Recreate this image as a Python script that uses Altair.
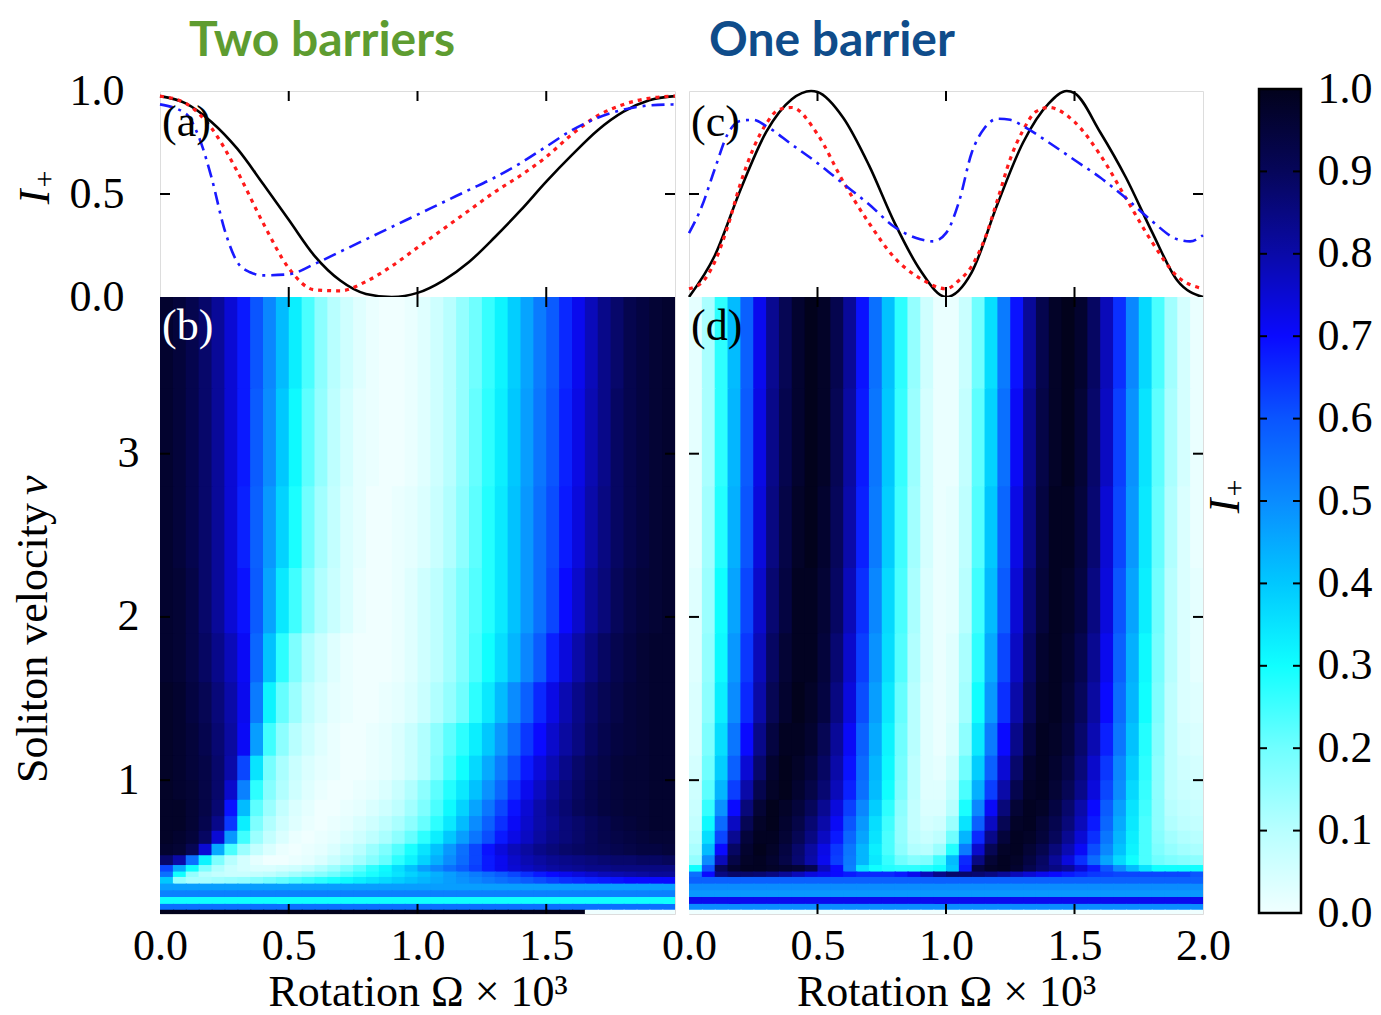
import altair as alt
import pandas as pd

SERIF = "Liberation Serif"

# ---------------- top panels: I+ versus rotation (three velocities) ----------------
A_BLACK_OMEGA = [0.0, 0.1, 0.2, 0.3, 0.4, 0.5, 0.6, 0.7, 0.8, 0.9, 1.0, 1.1, 1.2, 1.3, 1.4, 1.5, 1.6, 1.7, 1.8, 1.9, 2.0]
A_BLACK = [0.975, 0.94, 0.85, 0.72, 0.55, 0.375, 0.2, 0.08, 0.015, 0.0, 0.02, 0.08, 0.17, 0.29, 0.42, 0.56, 0.69, 0.81, 0.90, 0.955, 0.975]
A_RED_OMEGA = [0.0, 0.1, 0.2, 0.3, 0.4, 0.5, 0.6, 0.7, 0.8, 0.9, 1.0, 1.1, 1.2, 1.3, 1.4, 1.5, 1.6, 1.7, 1.8, 1.9, 2.0]
A_RED = [0.975, 0.94, 0.82, 0.61, 0.36, 0.14, 0.035, 0.03, 0.075, 0.15, 0.24, 0.33, 0.42, 0.51, 0.59, 0.68, 0.79, 0.88, 0.935, 0.965, 0.975]
A_BLUE_OMEGA = [0.0, 0.1, 0.15, 0.2, 0.25, 0.3, 0.35, 0.4, 0.5, 0.6, 0.7, 0.8, 0.9, 1.0, 1.1, 1.2, 1.3, 1.4, 1.5, 1.6, 1.7, 1.8, 1.9, 2.0]
A_BLUE = [0.935, 0.89, 0.78, 0.58, 0.33, 0.17, 0.12, 0.105, 0.11, 0.16, 0.22, 0.28, 0.34, 0.40, 0.46, 0.52, 0.58, 0.65, 0.73, 0.81, 0.87, 0.91, 0.93, 0.935]

C_BLACK_OMEGA = [0.0, 0.1, 0.2, 0.3, 0.4, 0.475, 0.5, 0.6, 0.7, 0.8, 0.9, 1.0, 1.1, 1.2, 1.3, 1.4, 1.47, 1.5, 1.6, 1.7, 1.8, 1.9, 2.0]
C_BLACK = [0.0, 0.2, 0.52, 0.80, 0.96, 1.0, 0.995, 0.87, 0.64, 0.36, 0.13, 0.0, 0.12, 0.45, 0.75, 0.94, 1.0, 0.99, 0.80, 0.58, 0.32, 0.08, 0.0]
C_RED_OMEGA = [0.0, 0.05, 0.1, 0.15, 0.2, 0.25, 0.3, 0.35, 0.4, 0.5, 0.6, 0.7, 0.8, 0.9, 1.0, 1.05, 1.1, 1.15, 1.2, 1.25, 1.3, 1.35, 1.4, 1.5, 1.6, 1.7, 1.8, 1.9, 2.0]
C_RED = [0.04, 0.07, 0.17, 0.34, 0.55, 0.72, 0.84, 0.91, 0.92, 0.79, 0.56, 0.36, 0.19, 0.09, 0.04, 0.08, 0.15, 0.28, 0.47, 0.67, 0.81, 0.90, 0.92, 0.85, 0.69, 0.48, 0.27, 0.10, 0.04]
C_BLUE_OMEGA = [0.0, 0.05, 0.1, 0.15, 0.2, 0.25, 0.3, 0.4, 0.5, 0.6, 0.7, 0.8, 0.9, 0.95, 1.0, 1.05, 1.1, 1.15, 1.2, 1.25, 1.3, 1.4, 1.5, 1.6, 1.7, 1.8, 1.9, 1.95, 2.0]
C_BLUE = [0.31, 0.44, 0.62, 0.79, 0.855, 0.86, 0.83, 0.74, 0.65, 0.55, 0.45, 0.34, 0.28, 0.27, 0.31, 0.46, 0.70, 0.82, 0.865, 0.86, 0.83, 0.75, 0.665, 0.58, 0.48, 0.37, 0.28, 0.27, 0.30]

# ---------------- heat maps: I+ (percent) over rotation x soliton velocity ----------------
OMEGA_EDGES = [0.0, 0.05, 0.1, 0.15, 0.2, 0.25, 0.3, 0.35, 0.4, 0.45, 0.5, 0.55, 0.6, 0.65, 0.7, 0.75,
               0.8, 0.85, 0.9, 0.95, 1.0, 1.05, 1.1, 1.15, 1.2, 1.25, 1.3, 1.35, 1.4, 1.45, 1.5, 1.55,
               1.6, 1.65, 1.7, 1.75, 1.8, 1.85, 1.9, 1.95, 2.0]
V_EDGES = [3.96, 3.4, 2.8, 2.3, 1.9, 1.6, 1.35, 1.15, 1.0, 0.88, 0.78, 0.69, 0.61, 0.54, 0.48,
           0.44, 0.407, 0.366, 0.325, 0.284, 0.242, 0.206, 0.18]

B_ROWS = [
    "97 95 92 88 82 75 68 60 51 42 33 24 16 10 6 3 1 0 0 1 3 6 10 15 20 26 32 39 46 53 59 66 72 78 84 88 92 94 96 97",
    "97 95 92 88 82 75 68 59 50 40 31 22 15 9 5 2 1 0 0 1 3 6 10 15 21 27 33 40 47 54 60 67 73 79 84 89 92 94 96 97",
    "97 95 92 88 82 75 67 58 48 38 29 20 13 8 4 2 0 0 1 2 4 7 11 16 22 28 34 41 48 55 61 68 74 80 85 89 92 94 96 97",
    "97 96 93 88 82 75 69 59 46 34 25 17 11 7 4 1 0 0 1 3 6 9 13 18 23 28 34 41 48 55 62 70 76 82 86 90 93 95 96 97",
    "97 96 93 89 84 78 71 57 41 27 18 11 7 3 1 0 0 0 1 3 6 9 13 18 24 30 36 43 51 59 67 74 80 85 89 92 94 96 97 97",
    "98 97 94 91 86 80 72 53 32 21 14 8 5 2 1 0 0 1 2 4 7 11 15 20 27 34 42 50 58 66 73 79 84 88 91 93 95 96 97 97",
    "98 97 95 92 87 81 71 47 25 16 10 6 3 1 0 0 1 2 4 7 11 16 22 27 33 40 48 56 64 70 76 81 85 89 92 94 95 96 97 97",
    "98 97 95 93 88 80 62 35 19 12 7 4 2 1 0 0 1 2 4 7 11 17 24 30 37 45 53 61 68 74 79 84 88 91 93 95 96 96 97 97",
    "98 97 96 93 88 76 52 27 17 11 6 3 1 0 0 1 2 4 7 11 16 22 28 34 41 49 57 65 72 77 82 86 89 92 94 95 96 96 97 97",
    "98 98 96 93 87 69 42 22 14 8 4 2 0 0 1 2 4 6 9 13 18 24 31 38 46 54 62 69 75 80 84 87 90 92 94 95 96 96 97 97",
    "98 98 96 92 84 64 33 18 11 6 3 1 0 1 2 4 6 9 12 16 21 27 34 42 50 58 65 71 76 80 83 86 88 90 92 94 95 96 97 97",
    "98 97 95 89 75 48 25 14 8 4 1 0 1 2 4 6 9 12 16 21 27 33 40 47 54 61 68 73 77 81 84 86 88 90 92 93 94 95 96 96",
    "97 96 91 75 45 24 14 8 4 1 0 1 2 4 7 10 14 18 23 29 35 41 48 55 62 69 74 78 81 84 86 88 89 90 91 92 93 94 94 95",
    "88 80 55 32 18 10 5 2 0 0 1 2 4 7 10 13 17 21 27 32 38 44 50 56 62 68 72 76 79 81 83 84 85 86 87 88 88 89 89 90",
    "62 45 30 18 11 7 5 4 4 5 6 8 11 14 18 22 27 31 36 41 47 51 55 59 63 68 72 75 77 79 81 82 83 84 84 85 85 85 85 85",
    "55 30 15 10 8 7 7 8 9 11 13 15 17 20 23 26 29 32 35 38 41 44 47 50 53 56 59 62 65 68 70 72 74 76 78 79 80 81 82 82",
    "40 15 12 12 13 14 15 17 19 21 23 25 27 29 31 33 35 37 39 41 43 45 47 49 51 53 55 57 59 61 63 65 66 67 68 69 70 70 70 70",
    "47*40",
    "52*40",
    "30*40",
    "55*40",
    "100*33 0*7",
]

D_ROWS = [
    "2 12 27 42 58 72 83 91 97 100 98 92 82 69 55 41 27 15 6 1 1 7 20 36 53 69 82 92 98 100 97 89 78 65 51 37 24 13 5 1",
    "2 12 27 43 59 73 84 92 97 100 98 91 81 68 54 40 26 14 5 1 1 8 22 38 55 71 84 93 98 100 96 88 77 63 49 35 22 12 5 1",
    "2 13 28 44 60 74 85 93 98 100 97 90 80 67 53 39 25 13 5 1 2 9 23 40 57 73 85 94 99 99 95 87 75 62 48 34 21 11 4 1",
    "3 14 30 46 62 76 87 94 99 99 96 89 78 65 51 37 24 12 4 1 2 10 25 42 59 75 87 95 99 98 94 85 74 60 46 33 20 10 4 2",
    "3 15 31 48 64 78 89 96 99 99 95 87 76 63 49 36 23 11 4 1 3 12 27 45 62 77 89 97 99 97 92 83 72 58 44 31 19 10 4 2",
    "4 16 33 50 66 80 91 97 100 98 94 85 74 61 47 34 21 10 3 1 3 13 30 48 65 80 91 98 99 96 90 81 70 56 43 30 18 9 4 3",
    "4 18 36 54 70 84 94 99 99 97 91 82 71 58 45 32 20 10 3 1 4 16 34 53 70 84 94 99 98 95 88 79 67 54 41 28 17 9 5 4",
    "5 20 39 58 75 88 97 100 98 95 89 80 69 56 43 31 19 9 3 2 6 20 39 58 75 88 97 99 97 93 86 76 64 51 39 27 16 9 6 5",
    "6 22 43 63 80 92 98 100 97 93 87 78 67 55 42 30 18 9 3 3 8 24 44 63 80 92 98 99 96 91 84 74 62 50 37 26 16 9 7 6",
    "7 26 49 70 86 96 100 98 95 90 83 74 63 51 39 27 16 8 4 4 10 29 51 71 86 96 99 98 94 88 80 70 59 47 35 25 16 10 8 7",
    "8 31 56 77 91 98 100 97 93 87 80 71 60 48 36 25 15 8 5 6 14 35 58 77 91 98 99 96 92 86 78 68 57 45 34 24 16 11 9 8",
    "10 36 62 83 95 99 99 96 91 85 77 68 57 46 35 24 15 9 7 9 20 43 66 84 95 99 98 95 90 83 75 65 54 43 33 24 17 13 11 10",
    "12 42 70 89 97 100 98 94 88 81 73 64 54 43 33 24 16 11 10 14 28 53 76 91 98 99 96 92 86 79 71 61 51 41 32 24 18 15 13 12",
    "15 50 78 93 98 99 97 93 87 80 72 63 53 43 34 26 20 17 18 25 42 66 85 96 99 98 94 89 82 74 65 56 46 37 30 24 20 18 17 16",
    "30 60 90 97 99 99 98 97 96 92 78 70 52 35 30 28 27 27 28 30 40 68 94 98 99 97 92 88 85 82 75 68 60 50 42 35 30 30 30 30",
    "55 70 85 88 88 87 85 82 78 74 72 70 68 66 66 66 68 72 78 84 88 88 87 85 82 78 75 72 70 68 66 64 63 62 62 62 62 62 62 60",
    "58*40",
    "50*40",
    "48*40",
    "72*40",
    "50*40",
    "0*40",
]

# colour map (value -> colour) and colour-bar labels / ticks
CMAP_STOPS = [0.0, 0.1, 0.2, 0.3, 0.4, 0.5, 0.6, 0.7, 0.8, 0.9, 1.0]
CMAP_COLORS = ["#f0ffff", "#b8ffff", "#70ffff", "#10ffff", "#00c8ff", "#0a8cff",
               "#0a55ff", "#0a0aff", "#0a0aa8", "#06065a", "#02021c"]
CBAR_VALUES = [0.0, 0.1, 0.2, 0.3, 0.4, 0.5, 0.6, 0.7, 0.8, 0.9, 1.0]
CBAR_TICKS = [0.1, 0.2, 0.3, 0.4, 0.5, 0.6, 0.7, 0.8, 0.9]

X_TICKS = [0.5, 1.0, 1.5]
Y_TICKS_TOP = [0.5]
Y_TICKS_HEAT = [1, 2, 3]
X_LABELS_LEFT = [0.0, 0.5, 1.0, 1.5]
X_LABELS_RIGHT = [0.0, 0.5, 1.0, 1.5, 2.0]
Y_LABELS_TOP = [0.0, 0.5, 1.0]
Y_LABELS_HEAT = [1, 2, 3]

PANEL_TAGS = ["(a)", "(b)", "(c)", "(d)"]
HEADINGS = ["Two barriers", "One barrier"]
HEADING_COLORS = ["#5e9c30", "#0f4c8a"]


def parse_row(s):
    out = []
    for tok in s.split():
        if "*" in tok:
            v, n = tok.split("*")
            out += [int(v)] * int(n)
        else:
            out.append(int(tok))
    assert len(out) == len(OMEGA_EDGES) - 1, (s, len(out))
    return out


OVERLAP_X = 0.005   # tiny overlap so neighbouring cells show no hairline seams
OVERLAP_V = 0.006


def heat_df(rows):
    recs = []
    for i, s in enumerate(rows):
        vals = parse_row(s)
        for k, val in enumerate(vals):
            recs.append({"x0": OMEGA_EDGES[k], "x1": OMEGA_EDGES[k + 1] + OVERLAP_X,
                         "v0": V_EDGES[i], "v1": V_EDGES[i + 1] - OVERLAP_V, "I": val / 100.0})
    return pd.DataFrame(recs)


W_L, W_R, H_T, H_B = 515, 514, 206, 617
GAP = 14
TL = 10
FS = 44
HEAD_FS, HEAD_Y = 48, -49
# colour bar geometry, relative to panel (d)
CB_LEFT, CB_W = 570, 42
CB_TOP, CB_LEN = -208, 824

XS = alt.Scale(domain=[0, 2], nice=False, zero=False)
YS_LINE = alt.Scale(domain=[0, 1], nice=False, zero=False)
YS_HEAT = alt.Scale(domain=[0.18, 3.96], nice=False, zero=False)
CSCALE = alt.Scale(domain=CMAP_STOPS, range=CMAP_COLORS, interpolate="rgb")
CBSCALE = alt.Scale(domain=[0, 1], range=[CB_TOP + CB_LEN, CB_TOP], nice=False, zero=False)


def enc_x(field, axis):
    return alt.X(field, scale=XS, axis=axis)


def ticks(W, H, xvals, yvals, yscale, xaxis, yaxis):
    rule = dict(color="black", strokeWidth=2)
    dx = pd.DataFrame({"t": xvals})
    dy = pd.DataFrame({"t": yvals})
    return [
        alt.Chart(dx).mark_rule(**rule).encode(x=enc_x("t:Q", xaxis), y=alt.value(0), y2=alt.value(TL)),
        alt.Chart(dx).mark_rule(**rule).encode(x=enc_x("t:Q", xaxis), y=alt.value(H), y2=alt.value(H - TL)),
        alt.Chart(dy).mark_rule(**rule).encode(y=alt.Y("t:Q", scale=yscale, axis=yaxis), x=alt.value(0), x2=alt.value(TL)),
        alt.Chart(dy).mark_rule(**rule).encode(y=alt.Y("t:Q", scale=yscale, axis=yaxis), x=alt.value(W), x2=alt.value(W - TL)),
    ]


def text(txt, x, y, size, color="black", font=SERIF, weight="normal", style="normal", align="left", angle=0):
    kw = dict(align=align, baseline="middle", fontSize=size, font=font, fontWeight=weight,
              fontStyle=style, color=color)
    if angle:
        kw["angle"] = angle
    return alt.Chart(pd.DataFrame({"t": [txt]})).mark_text(**kw).encode(
        x=alt.value(x), y=alt.value(y), text="t:N")


def i_plus(x, y):
    """Italic I with a subscript plus, rotated like a y-axis title (centre at x, y)."""
    return [
        text("I", x, y + 6, FS, style="italic", align="center", angle=270),
        text("+", x + 9, y - 12, 30, align="center", angle=270),
    ]


def line(xs, ys, color, width, yaxis, dash=None):
    kw = dict(color=color, strokeWidth=width, interpolate="monotone")
    if dash:
        kw["strokeDash"] = dash
    return alt.Chart(pd.DataFrame({"omega": xs, "I": ys})).mark_line(**kw).encode(
        x=enc_x("omega:Q", None), y=alt.Y("I:Q", scale=YS_LINE, axis=yaxis))


def x_axis(values):
    return alt.Axis(values=values, format=".1f", title="Rotation Ω × 10³", ticks=False, domain=False,
                    grid=False, labelPadding=10, titlePadding=2, labelFont=SERIF, titleFont=SERIF,
                    labelFontSize=FS, titleFontSize=FS, titleFontWeight="normal", labelColor="black",
                    titleColor="black", labelFlush=False, labelOverlap=False)


Y_AXIS_TOP = alt.Axis(values=Y_LABELS_TOP, format=".1f", title=None, ticks=False, domain=False, grid=False,
                      labelPadding=36, labelFont=SERIF, labelFontSize=FS, labelColor="black",
                      labelFlush=False, labelOverlap=False)
Y_AXIS_HEAT = alt.Axis(values=Y_LABELS_HEAT, format="d", title=None, ticks=False, domain=False, grid=False,
                       labelPadding=21, labelFont=SERIF, labelFontSize=FS, labelColor="black",
                       labelFlush=False, labelOverlap=False)
X_AXIS_B = x_axis(X_LABELS_LEFT)
X_AXIS_D = x_axis(X_LABELS_RIGHT)
CB_AXIS = alt.Axis(orient="right", values=CBAR_VALUES, format=".1f", title=None, ticks=False, domain=False,
                   grid=False, labelPadding=16, offset=CB_LEFT + CB_W - W_R, labelFont=SERIF,
                   labelFontSize=FS, labelColor="black", labelFlush=False, labelOverlap=False)

# panel (a)
a = alt.layer(
    line(A_BLACK_OMEGA, A_BLACK, "black", 2.6, Y_AXIS_TOP),
    line(A_RED_OMEGA, A_RED, "#ff1a1a", 3.2, Y_AXIS_TOP, dash=[4, 5]),
    line(A_BLUE_OMEGA, A_BLUE, "#1a1aff", 2.6, Y_AXIS_TOP, dash=[13, 6, 3, 6]),
    *ticks(W_L, H_T, X_TICKS, Y_TICKS_TOP, YS_LINE, None, Y_AXIS_TOP),
    text(PANEL_TAGS[0], 2, 32, FS),
    text(HEADINGS[0], 29, HEAD_Y, HEAD_FS, color=HEADING_COLORS[0], font="Lato", weight="bold"),
    *i_plus(-124, 100),
).properties(width=W_L, height=H_T)

# panel (c)
c = alt.layer(
    line(C_BLACK_OMEGA, C_BLACK, "black", 2.6, None),
    line(C_RED_OMEGA, C_RED, "#ff1a1a", 3.2, None, dash=[4, 5]),
    line(C_BLUE_OMEGA, C_BLUE, "#1a1aff", 2.6, None, dash=[13, 6, 3, 6]),
    *ticks(W_R, H_T, X_TICKS, Y_TICKS_TOP, YS_LINE, None, None),
    text(PANEL_TAGS[2], 2, 32, FS),
    text(HEADINGS[1], 20, HEAD_Y, HEAD_FS, color=HEADING_COLORS[1], font="Lato", weight="bold"),
).properties(width=W_R, height=H_T)


def heat(rows, xaxis, yaxis):
    return alt.Chart(heat_df(rows)).mark_rect(clip=True).encode(
        x=enc_x("x0:Q", xaxis),
        x2="x1:Q",
        y=alt.Y("v0:Q", scale=YS_HEAT, axis=yaxis),
        y2="v1:Q",
        color=alt.Color("I:Q", scale=CSCALE, legend=None),
    )


b = alt.layer(
    heat(B_ROWS, X_AXIS_B, Y_AXIS_HEAT),
    *ticks(W_L, H_B, X_TICKS, Y_TICKS_HEAT, YS_HEAT, X_AXIS_B, Y_AXIS_HEAT),
    text(PANEL_TAGS[1], 2, 30, FS, color="white"),
    text("Soliton velocity", -126, 206, FS, align="right", angle=270),
    text("v", -126, 198, FS, style="italic", align="left", angle=270),
).properties(width=W_L, height=H_B)

# colour bar: one rect filled with the colour map's own stops, plus its axis and inner ticks
cbar_gradient = alt.LinearGradient(
    gradient="linear", x1=0, x2=0, y1=1, y2=0,
    stops=[alt.GradientStop(offset=o, color=col) for o, col in zip(CMAP_STOPS, CMAP_COLORS)],
)
cb_span = pd.DataFrame({"lo": [CBAR_VALUES[0]], "hi": [CBAR_VALUES[-1]]})
cb_ticks = pd.DataFrame({"t": CBAR_TICKS})
cb_rule = dict(color="black", strokeWidth=2)

cbar = alt.Chart(cb_span).mark_rect(fill=cbar_gradient, stroke="black", strokeWidth=2.5).encode(
    y=alt.Y("lo:Q", scale=CBSCALE, axis=CB_AXIS), y2="hi:Q",
    x=alt.value(CB_LEFT), x2=alt.value(CB_LEFT + CB_W))
cbt_l = alt.Chart(cb_ticks).mark_rule(**cb_rule).encode(
    y=alt.Y("t:Q", scale=CBSCALE, axis=None), x=alt.value(CB_LEFT), x2=alt.value(CB_LEFT + 8))
cbt_r = alt.Chart(cb_ticks).mark_rule(**cb_rule).encode(
    y=alt.Y("t:Q", scale=CBSCALE, axis=None), x=alt.value(CB_LEFT + CB_W - 8), x2=alt.value(CB_LEFT + CB_W))

d = alt.layer(
    heat(D_ROWS, X_AXIS_D, None),
    *ticks(W_R, H_B, X_TICKS, Y_TICKS_HEAT, YS_HEAT, X_AXIS_D, None),
    text(PANEL_TAGS[3], 2, 30, FS),
    *i_plus(537, 203),
    cbar, cbt_l, cbt_r,
).resolve_scale(y="independent").properties(width=W_R, height=H_B)

chart = alt.concat(a, c, b, d, columns=2, spacing={"row": 0, "column": GAP}, bounds="flush").properties(
    padding={"left": 3, "top": 9, "right": 0, "bottom": 0}
).configure_view(stroke="black", strokeWidth=2.5).configure(background="white")

chart.save("out.html", embed_options={"renderer": "svg", "actions": False})
